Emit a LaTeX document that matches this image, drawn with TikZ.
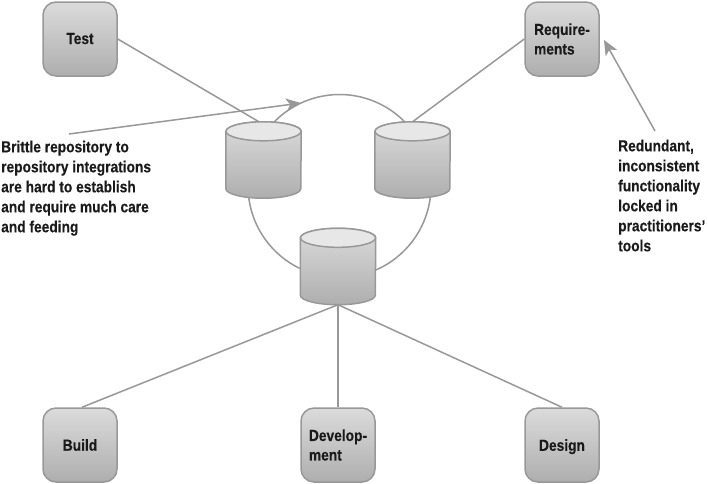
\documentclass[tikz,border=0pt]{standalone}
\usepackage{fontspec}
\setmainfont[FakeStretch=0.86,BoldFeatures={FakeBold=0.25}]{Liberation Sans}
\usetikzlibrary{arrows.meta}
\definecolor{edgegray}{HTML}{979897}
\definecolor{shadetop}{HTML}{DADBDA}
\definecolor{shadebottom}{HTML}{ADAEAD}
\definecolor{lidgray}{HTML}{E7E7E7}
\definecolor{inkblack}{HTML}{1A1A1A}
\tikzset{
  toolbox/.style={draw=edgegray,line width=1.5pt,rounded corners=13pt,top color=shadetop,bottom color=shadebottom,
    minimum width=74pt,minimum height=74pt,inner sep=0pt,align=left,text=inkblack,font=\bfseries\fontsize{16}{19.5}\selectfont},
  drumframe/.style={minimum width=75pt,minimum height=76pt,inner sep=0pt},
  drumside/.style={draw=edgegray,line width=1.5pt,top color=shadetop,bottom color=shadebottom},
  drumlid/.style={draw=edgegray,line width=1.5pt,fill=lidgray},
  wire/.style={draw=edgegray,line width=1.5pt},
  pointer/.style={wire,-{Stealth[length=15pt,width=13pt,inset=4pt]}},
  note/.style={inner sep=0pt,align=left,text=inkblack,font=\bfseries\fontsize{16}{20}\selectfont}
}
% A repository drum: name, centre x, centre y
\newcommand{\repodrum}[3]{%
  \node[drumframe] (#1) at (#2,#3) {};
  \path[drumside] ([yshift=-9.5pt]#1.north west) -- ([yshift=9.5pt]#1.south west)
    arc[start angle=180,end angle=360,x radius=37.5pt,y radius=9.5pt]
    -- ([yshift=-9.5pt]#1.north east)
    arc[start angle=0,end angle=180,x radius=37.5pt,y radius=9.5pt] -- cycle;
  \path[drumlid] ([yshift=-9.5pt]#1.north) ellipse[x radius=37.5pt,y radius=9.5pt];
}
\begin{document}
\begin{tikzpicture}[x=1pt,y=-1pt]
\useasboundingbox (0,0) rectangle (708,483);
\node[toolbox] (test) at (80,39) {\raisebox{1pt}{Test}};
\node[toolbox] (req) at (562,39) {Require-\\ments};
\node[toolbox] (build) at (80,445) {Build};
\node[toolbox] (dev) at (338,445) {Develop-\\ment};
\node[toolbox,text depth=0pt] (design) at (562,445) {Design};
\repodrum{repoleft}{263.5}{160}
\repodrum{reporight}{412.5}{160}
\repodrum{repobase}{338}{266.5}
% Ring of point-to-point integrations between the three repositories
\coordinate (ringc) at (339.5,186);
\coordinate (ringa) at ([shift={(135.2:91.5pt)}]ringc);
\coordinate (ringb) at ([shift={(187.5:91.5pt)}]ringc);
\coordinate (ringd) at ([shift={(293:91.5pt)}]ringc);
\draw[wire] (ringa) arc[start angle=135.2,end angle=44.8,radius=91.5pt];
\draw[wire] (ringb) arc[start angle=187.5,end angle=244.3,radius=91.5pt];
\draw[wire] (ringd) arc[start angle=293,end angle=352.5,radius=91.5pt];
% Tool to repository links
\draw[wire] (test.east) -- ([xshift=-4.5pt]repoleft.north);
\draw[wire] (req.west) -- (reporight.north);
\draw[wire] (repobase.south) -- ([xshift=2pt]build.north);
\draw[wire] (repobase.south) -- (dev.north);
\draw[wire] (repobase.south) -- (design.north);
% Annotations
\node[note,anchor=north west] (brittle) at (1,140.5) {Brittle repository to\\repository integrations\\are hard to establish\\and require much care\\and feeding};
\node[note,anchor=north west] (redundant) at (618,139.5) {Redundant,\\inconsistent\\functionality\\locked in\\practitioners’\\tools};
\coordinate (brittlefoot) at (69,134);
\coordinate (ringpoint) at (301,103);
\coordinate (redundantfoot) at (655,131);
\coordinate (reqpoint) at (604,40);
\draw[pointer] (brittlefoot) -- (ringpoint);
\draw[pointer] (redundantfoot) -- (reqpoint);
\end{tikzpicture}
\end{document}
